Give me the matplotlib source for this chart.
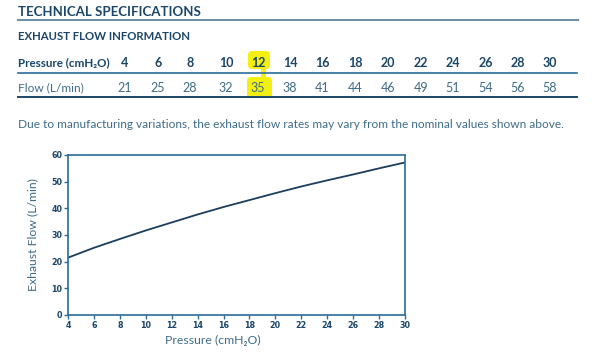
import matplotlib
matplotlib.use("Agg")
import matplotlib.pyplot as plt
from matplotlib.patches import FancyBboxPatch, Rectangle

pressure = [4, 6, 8, 10, 12, 14, 16, 18, 20, 22, 24, 26, 28, 30]
flow = [21, 25, 28, 32, 35, 38, 41, 44, 46, 49, 51, 54, 56, 58]
# curve as drawn in the chart (smoothed)
flow_curve = [21.5, 25.2, 28.5, 31.7, 34.7, 37.7, 40.5, 43.1, 45.7, 48.2, 50.5, 52.7, 55.0, 57.2]
highlight = 12

title = "TECHNICAL SPECIFICATIONS"
subtitle = "EXHAUST FLOW INFORMATION"
row_labels = ["Pressure (cmH\u2082O)", "Flow (L/min)"]
note = "Due to manufacturing variations, the exhaust flow rates may vary from the nominal values shown above."

NAVY = "#1b4669"
BLUE = "#2b6c98"
SOFT = "#3f6c88"
YELLOW = "#f3ef10"

plt.rcParams["font.family"] = ["Lato", "DejaVu Sans"]

fig = plt.figure(figsize=(5.92, 3.59), dpi=100)

# page overlay in pixel coordinates
page = fig.add_axes([0, 0, 1, 1])
page.set_xlim(0, 592)
page.set_ylim(359, 0)
page.axis("off")

page.text(18, 12, title, fontsize=9.5, fontweight="bold", color=NAVY, va="center")
page.plot([18, 578], [20, 20], color="#6f93a6", lw=1.5)
page.text(18, 36, subtitle, fontsize=8.2, fontweight="bold", color=NAVY, va="center")

# table
col_x = [125, 158, 190, 226, 258, 290, 322, 355, 388, 421, 453, 486, 518, 550]
i_hl = pressure.index(highlight)
hx = col_x[i_hl]
page.add_patch(FancyBboxPatch((hx - 8, 53), 18, 14, boxstyle="round,pad=2,rounding_size=4",
                              fc=YELLOW, ec="none", zorder=1))
page.add_patch(Rectangle((hx + 3, 66), 5, 13, fc=YELLOW, ec="none", zorder=1))
page.add_patch(FancyBboxPatch((hx - 9, 79), 21, 17, boxstyle="round,pad=2,rounding_size=4",
                              fc=YELLOW, ec="none", zorder=1))

page.text(18, 63, row_labels[0], fontsize=8.4, fontweight="bold", color=NAVY, va="center", zorder=3)
page.text(18, 88, row_labels[1], fontsize=8.6, color=SOFT, va="center", zorder=3)
for x, p, f in zip(col_x, pressure, flow):
    page.text(x, 63, str(p), fontsize=9, fontweight="bold", color=NAVY,
              ha="center", va="center", zorder=3)
    page.text(x, 88, str(f), fontsize=9, color=SOFT, ha="center", va="center", zorder=3)
page.plot([18, 577], [73, 73], color=BLUE, lw=1.2, zorder=2)
page.plot([18, 577], [97, 97], color=NAVY, lw=1.4, zorder=2)

page.text(18, 124, note, fontsize=8.6, color=SOFT, va="center")

# chart
ax = fig.add_axes([68 / 592, (359 - 315) / 359, (405 - 68) / 592, (315 - 155) / 359])
ax.plot(pressure, flow_curve, color="#1c3d5e", lw=1.3)
ax.set_xlim(4, 30)
ax.set_ylim(0, 60)
ax.set_xticks(range(4, 31, 2))
ax.set_yticks(range(0, 61, 10))
for s in ax.spines.values():
    s.set_color(BLUE)
    s.set_linewidth(1.2)
ax.tick_params(colors=BLUE, length=3, width=1, labelsize=5.8, pad=1)
for lbl in ax.get_xticklabels() + ax.get_yticklabels():
    lbl.set_family("DejaVu Sans")
    lbl.set_fontweight("bold")
    lbl.set_color(NAVY)
ax.set_xlabel("Pressure (cmH\u2082O)", fontsize=8.8, color=SOFT)
ax.xaxis.set_label_coords((213 - 68) / (405 - 68), -(340 - 315) / 160)
ax.xaxis.label.set_va("center")
ax.set_ylabel("Exhaust Flow (L/min)", fontsize=8.8, color=SOFT)
ax.yaxis.set_label_coords(-(68 - 33) / (405 - 68), 0.5)
ax.yaxis.label.set_va("center")

fig.savefig("out.png", dpi=100)
